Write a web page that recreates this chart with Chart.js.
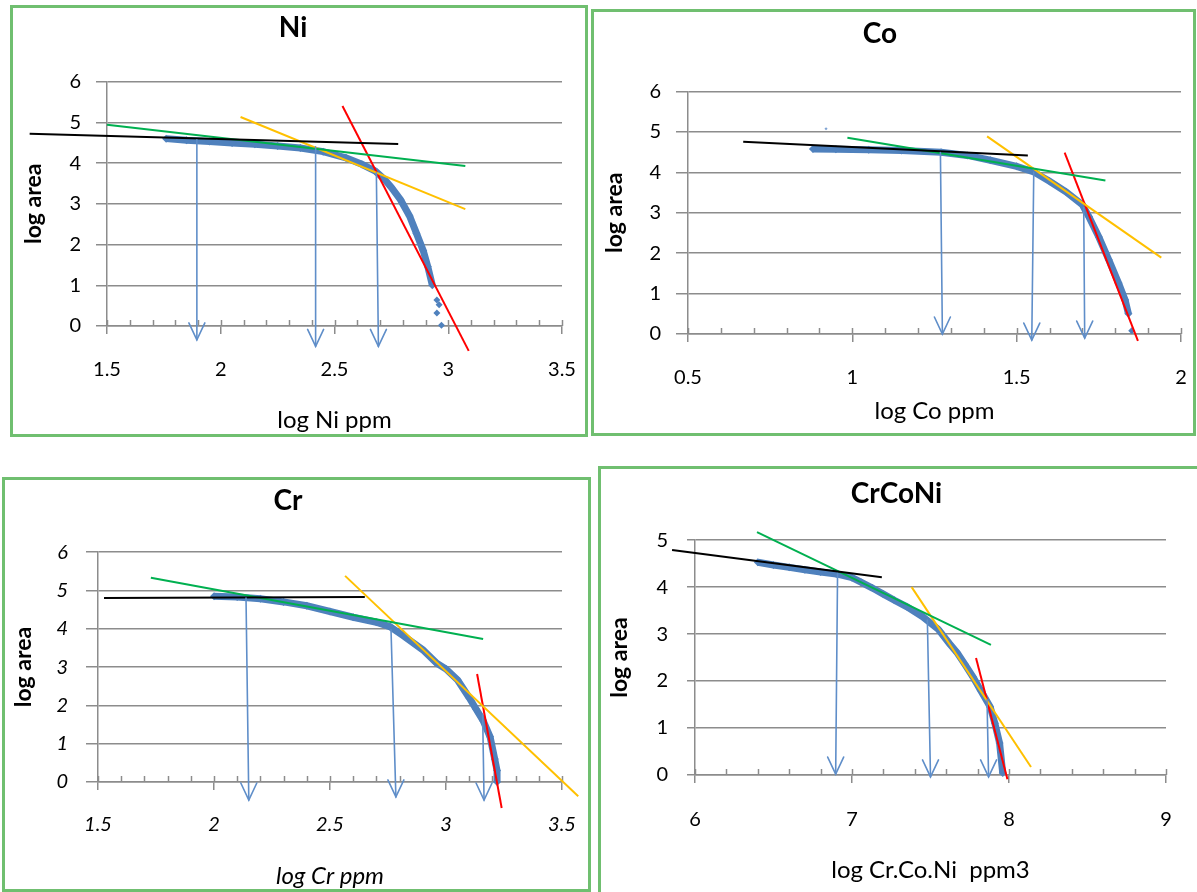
<!DOCTYPE html>
<html><head><meta charset="utf-8">
<script src="https://cdn.jsdelivr.net/npm/chart.js@4.4.1/dist/chart.umd.min.js"></script>
<style>
html,body{margin:0;padding:0;background:#fff;width:1197px;height:892px;overflow:hidden;}
body{position:relative;}
.panel{position:absolute;box-sizing:border-box;border:3px solid #70bf70;background:#fff;overflow:hidden;}
.panel canvas{position:absolute;left:0;top:0;}
</style></head><body>
<div class="panel" style="left:10px;top:5px;width:578px;height:432px"><canvas id="cNi" width="572" height="426"></canvas></div>
<div class="panel" style="left:591px;top:9px;width:605px;height:427px"><canvas id="cCo" width="599" height="421"></canvas></div>
<div class="panel" style="left:2px;top:477px;width:589px;height:415px"><canvas id="cCr" width="583" height="409"></canvas></div>
<div class="panel" style="left:598px;top:466px;width:620px;height:440px"><canvas id="cCrCoNi" width="614" height="434"></canvas></div>
<script>
// ---------- Ni ----------
const niCurveX = [1.76,1.85,1.95,2.05,2.15,2.25,2.35,2.45,2.55,2.62,2.68,2.72,2.75,2.79,2.83,2.86,2.89,2.91,2.93];
const niCurveY = [4.60,4.56,4.53,4.49,4.46,4.42,4.37,4.28,4.13,3.97,3.80,3.60,3.40,3.10,2.70,2.28,1.85,1.46,1.00];
const niTailX = [2.95,2.96,2.95,2.97];
const niTailY = [0.64,0.52,0.32,0.02];
const niBlack = [[1.16,4.72],[2.78,4.47]];
const niGreen = [[1.50,4.94],[3.075,3.93]];
const niYellow = [[2.087,5.13],[3.075,2.87]];
const niRed = [[2.535,5.40],[3.09,-0.61]];
const niArrows = [[1.895,4.57,1.895,-0.34],[2.417,4.40,2.417,-0.50],[2.684,3.76,2.693,-0.50]];
const niXLabels = [1.5,2,2.5,3,3.5];

// ---------- Co ----------
const coCurveX = [0.88,0.95,1.05,1.15,1.27,1.35,1.42,1.50,1.55,1.60,1.65,1.70,1.72,1.75,1.78,1.81,1.83,1.84];
const coCurveY = [4.58,4.57,4.56,4.54,4.50,4.42,4.30,4.15,4.02,3.78,3.52,3.20,2.90,2.40,1.84,1.26,0.84,0.50];
const coTailX = [1.85];
const coTailY = [0.08];
const coStrayX = [0.92];
const coStrayY = [5.08];
const coBlack = [[0.668,4.76],[1.534,4.42]];
const coGreen = [[0.985,4.86],[1.77,3.80]];
const coYellow = [[1.41,4.89],[1.94,1.89]];
const coRed = [[1.646,4.49],[1.869,-0.17]];
const coArrows = [[1.268,4.49,1.274,0.0],[1.552,4.00,1.546,-0.15],[1.704,3.13,1.707,-0.10]];
const coXLabels = [0.5,1,1.5,2];

// ---------- Cr ----------
const crCurveX = [2.00,2.10,2.20,2.30,2.40,2.50,2.60,2.70,2.76,2.82,2.90,2.96,3.00,3.05,3.10,3.13,3.16,3.19,3.21,3.22,3.22];
const crCurveY = [4.85,4.83,4.78,4.70,4.60,4.45,4.30,4.17,4.05,3.80,3.45,3.10,2.95,2.66,2.20,1.90,1.60,1.18,0.60,0.30,0.00];
const crBlack = [[1.526,4.80],[2.65,4.83]];
const crGreen = [[1.728,5.33],[3.16,3.73]];
const crYellow = [[2.565,5.38],[3.57,-0.37]];
const crRed = [[3.134,2.82],[3.24,-0.68]];
const crArrows = [[2.138,4.80,2.15,-0.47],[2.763,3.97,2.784,-0.39],[3.158,1.75,3.164,-0.47]];
const crXLabels = [1.5,2,2.5,3,3.5];

// ---------- CrCoNi ----------
const cnCurveX = [6.40,6.50,6.60,6.70,6.80,6.90,7.00,7.06,7.13,7.20,7.27,7.35,7.45,7.55,7.62,7.67,7.72,7.77,7.82,7.88,7.91,7.94,7.96];
const cnCurveY = [4.53,4.47,4.42,4.37,4.32,4.28,4.20,4.10,3.98,3.85,3.72,3.58,3.37,3.10,2.80,2.60,2.35,2.09,1.80,1.45,1.10,0.68,0.04];
const cnBlack = [[5.854,4.79],[7.19,4.21]];
const cnGreen = [[6.395,5.17],[7.885,2.77]];
const cnYellow = [[7.38,4.00],[8.14,0.17]];
const cnRed = [[7.79,2.49],[7.99,-0.09]];
const cnArrows = [[6.908,4.29,6.896,0.02],[7.48,3.30,7.50,-0.04],[7.86,1.60,7.87,-0.04]];
const cnXLabels = [6,7,8,9];

const GRID = '#8c8c8c';
const BLUE = '#4f81bd';
const ARROW = '#5f8ec9';
const FONT = "Lato, 'Noto Sans', sans-serif";

const pts = (xs, ys) => xs.map((x, i) => ({x: x, y: ys[i]}));
const seg = (p) => p.map(q => ({x: q[0], y: q[1]}));

const minorTicks = {
  id: 'minorTicks',
  beforeDatasetsDraw(chart) {
    const xs = chart.scales.x, ctx = chart.ctx, y0 = chart.chartArea.bottom;
    ctx.save();
    ctx.strokeStyle = GRID; ctx.lineWidth = 1.5;
    xs.ticks.forEach(t => {
      const px = Math.round(xs.getPixelForValue(t.value)) + 0.5;
      ctx.beginPath(); ctx.moveTo(px, y0 - 6); ctx.lineTo(px, y0); ctx.stroke();
    });
    ctx.restore();
  }
};
const arrowPlugin = {
  id: 'arrows',
  afterDatasetsDraw(chart, args, opts) {
    const xs = chart.scales.x, ys = chart.scales.y, ctx = chart.ctx;
    ctx.save();
    ctx.strokeStyle = ARROW; ctx.lineWidth = 1.6; ctx.lineCap = 'round';
    (opts.list || []).forEach(a => {
      const x1 = xs.getPixelForValue(a[0]), y1 = ys.getPixelForValue(a[1]);
      const x2 = xs.getPixelForValue(a[2]), y2 = ys.getPixelForValue(a[3]);
      ctx.beginPath(); ctx.moveTo(x1, y1); ctx.lineTo(x2, y2); ctx.stroke();
      ctx.beginPath();
      ctx.moveTo(x2 - 8, y2 - 17); ctx.lineTo(x2, y2); ctx.lineTo(x2 + 8, y2 - 17);
      ctx.stroke();
    });
    ctx.restore();
  }
};

function build(id, p) {
  const italic = p.italic ? 'italic' : 'normal';
  const fit = (d, c) => ({data: seg(d), showLine: true, borderColor: c, borderWidth: 2, pointRadius: 0, clip: false, order: 1});
  const datasets = [
    fit(p.black, '#000000'), fit(p.green, '#00b050'), fit(p.yellow, '#ffc000'), fit(p.red, '#ff0000'),
    {data: pts(p.cx, p.cy), showLine: true, borderColor: BLUE, backgroundColor: BLUE, borderWidth: 7,
     pointStyle: 'rectRot', pointRadius: 4, pointBorderWidth: 0, clip: false, order: 5}
  ];
  if (p.tx) datasets.push({data: pts(p.tx, p.ty), showLine: false, backgroundColor: BLUE, borderColor: BLUE,
     pointStyle: 'rectRot', pointRadius: 3.5, pointBorderWidth: 0, clip: false, order: 5});
  if (p.sx) datasets.push({data: pts(p.sx, p.sy), showLine: false, backgroundColor: '#7fa3d3', borderColor: '#7fa3d3',
     pointStyle: 'rectRot', pointRadius: 1.6, pointBorderWidth: 0, clip: false, order: 5});
  const isMajor = v => p.xLabels.some(l => Math.abs(l - v) < 1e-6);
  new Chart(document.getElementById(id), {
    type: 'scatter',
    data: {datasets: datasets},
    plugins: [minorTicks, arrowPlugin],
    options: {
      responsive: false, animation: false, events: [],
      layout: {padding: p.pad},
      plugins: {
        legend: {display: false}, tooltip: {enabled: false},
        title: {display: true, text: p.title, color: '#000', font: {family: FONT, size: 28, weight: 'bold'}, padding: p.titlePad},
        arrows: {list: p.arrows}
      },
      scales: {
        x: {
          type: 'linear', min: p.xMin, max: p.xMax,
          ticks: {stepSize: p.xStep, autoSkip: false, maxRotation: 0, minRotation: 0, padding: p.xTickPad,
                  color: '#000', font: {family: FONT, size: 20, style: italic},
                  callback: v => isMajor(v) ? String(+v.toFixed(2)) : ''},
          grid: {drawOnChartArea: false, drawTicks: true, tickLength: 8, lineWidth: 1.5,
                 tickColor: c => (c.tick && isMajor(c.tick.value)) ? GRID : 'rgba(0,0,0,0)'},
          border: {display: true, color: GRID, width: 1.5},
          title: {display: true, text: p.xTitle, color: '#000', font: {family: FONT, size: 24, style: italic},
                  padding: {top: 0, bottom: p.xTitlePad}},
          afterFit: s => { s.height = p.xH; s.paddingLeft = 0; s.paddingRight = 0; s.paddingTop = 0; s.paddingBottom = 0; }
        },
        y: {
          type: 'linear', min: 0, max: p.yMax,
          ticks: {stepSize: 1, padding: p.yTickPad, color: '#000', font: {family: FONT, size: 20, style: italic}},
          grid: {color: GRID, lineWidth: 1.5, drawTicks: true, tickLength: p.yTickLen, tickColor: GRID},
          border: {display: true, color: GRID, width: 1.5},
          title: {display: true, text: 'log area', color: '#000', font: {family: FONT, size: 23, weight: 'bold'},
                  padding: {top: p.yTitlePad, bottom: 0}},
          afterFit: s => { s.width = p.yW; s.paddingLeft = 0; s.paddingRight = 0; s.paddingTop = 0; s.paddingBottom = 0; }
        }
      }
    }
  });
}

build('cNi', {title: 'Ni', xTitle: 'log Ni ppm', xMin: 1.5, xMax: 3.5, xStep: 0.1, yMax: 6, xLabels: niXLabels,
  cx: niCurveX, cy: niCurveY, tx: niTailX, ty: niTailY, black: niBlack, green: niGreen, yellow: niYellow, red: niRed, arrows: niArrows,
  pad: {left: 11, right: 23, top: 0, bottom: 0}, yW: 83, xH: 108, titlePad: {top: 3, bottom: 37},
  yTitlePad: -4, xTitlePad: -1, xTickPad: 24, yTickLen: 11, yTickPad: 15});

build('cCo', {title: 'Co', xTitle: 'log Co ppm', xMin: 0.5, xMax: 2, xStep: 0.1, yMax: 6, xLabels: coXLabels,
  cx: coCurveX, cy: coCurveY, tx: coTailX, ty: coTailY, sx: coStrayX, sy: coStrayY,
  black: coBlack, green: coGreen, yellow: coYellow, red: coRed, arrows: coArrows,
  pad: {left: -15, right: 12, top: 0, bottom: 0}, yW: 109, xH: 99, titlePad: {top: 5, bottom: 41},
  yTitlePad: 22, xTitlePad: 7, xTickPad: 24, yTickLen: 12, yTickPad: 15});

build('cCr', {title: 'Cr', xTitle: 'log Cr ppm', italic: true, xMin: 1.5, xMax: 3.5, xStep: 0.1, yMax: 6, xLabels: crXLabels,
  cx: crCurveX, cy: crCurveY, black: crBlack, green: crGreen, yellow: crYellow, red: crRed, arrows: crArrows,
  pad: {left: 9, right: 26, top: 0, bottom: 0}, yW: 84, xH: 107, titlePad: {top: 4, bottom: 34.5},
  yTitlePad: -4, xTitlePad: -2, xTickPad: 23, yTickLen: 12, yTickPad: 18});

build('cCrCoNi', {title: 'CrCoNi', xTitle: 'log Cr.Co.Ni  ppm3', xMin: 6, xMax: 9, xStep: 0.2, yMax: 5, xLabels: cnXLabels,
  cx: cnCurveX, cy: cnCurveY, black: cnBlack, green: cnGreen, yellow: cnYellow, red: cnRed, arrows: cnArrows,
  pad: {left: 26, right: 49, top: 0, bottom: 0}, yW: 68, xH: 128, titlePad: {top: 8, bottom: 29.5},
  yTitlePad: -21, xTitlePad: 18, xTickPad: 25, yTickLen: 8, yTickPad: 19});
</script>
</body></html>
